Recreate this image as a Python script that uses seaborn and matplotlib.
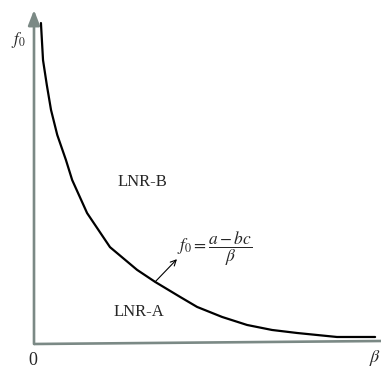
import matplotlib
matplotlib.use("Agg")
import matplotlib.pyplot as plt
import seaborn as sns
import pandas as pd

# curve (beta, f0), arbitrary units 0..10
beta = [0.20, 0.26, 0.37, 0.49, 0.67, 0.92, 1.10, 1.53, 2.19, 2.97, 3.49,
        4.21, 4.70, 5.42, 6.14, 6.86, 7.58, 8.73, 9.83]
f0 = [9.61, 8.50, 7.75, 7.01, 6.26, 5.51, 4.91, 3.92, 2.90, 2.22, 1.86,
      1.41, 1.11, 0.81, 0.57, 0.42, 0.33, 0.21, 0.21]

region_labels = ["LNR-B", "LNR-A"]
region_pos = [(3.11, 4.85), (3.03, 0.96)]

sns.set_style("white")
plt.rcParams["font.family"] = ["Liberation Serif", "DejaVu Serif"]
plt.rcParams["mathtext.fontset"] = "stix"

fig = plt.figure(figsize=(3.81, 3.67), dpi=100)
ax = fig.add_axes([34 / 381, 23 / 367, 347 / 381, 334 / 367])
ax.set_xlim(0, 10)
ax.set_ylim(0, 10)

axis_col = "#7b8985"
# x axis
ax.plot([0, 10], [0, 0.09], color=axis_col, lw=1.9, clip_on=False, solid_capstyle="butt")
# y axis with arrow
ax.annotate("", xy=(0, 10.0), xytext=(0, 0), xycoords="data",
            arrowprops=dict(arrowstyle="-|>,head_length=0.9,head_width=0.35",
                            color=axis_col, lw=1.9, shrinkA=0, shrinkB=0),
            annotation_clip=False)

df = pd.DataFrame({"beta": beta, "f0": f0})
sns.lineplot(data=df, x="beta", y="f0", ax=ax, color="black", lw=1.6, sort=False)
ax.set_axis_off()

ax.text(-0.46, 9.1, "$f_0$", fontsize=12, ha="center", va="center", clip_on=False)
ax.text(-0.03, -0.48, "0", fontsize=13, ha="center", va="center", clip_on=False)
ax.text(9.83, -0.42, r"$\beta$", fontsize=13, ha="center", va="center", clip_on=False)

for lab, (x, y) in zip(region_labels, region_pos):
    ax.text(x, y, lab, fontsize=12, ha="center", va="center")

ax.text(4.12, 2.84, r"$f_0=\dfrac{a-bc}{\beta}$", fontsize=12.5, ha="left", va="center")
ax.annotate("", xy=(4.12, 2.54), xytext=(3.49, 1.86),
            arrowprops=dict(arrowstyle="->", color="black", lw=0.8, shrinkA=0, shrinkB=0))

fig.savefig("out.png", dpi=100)
